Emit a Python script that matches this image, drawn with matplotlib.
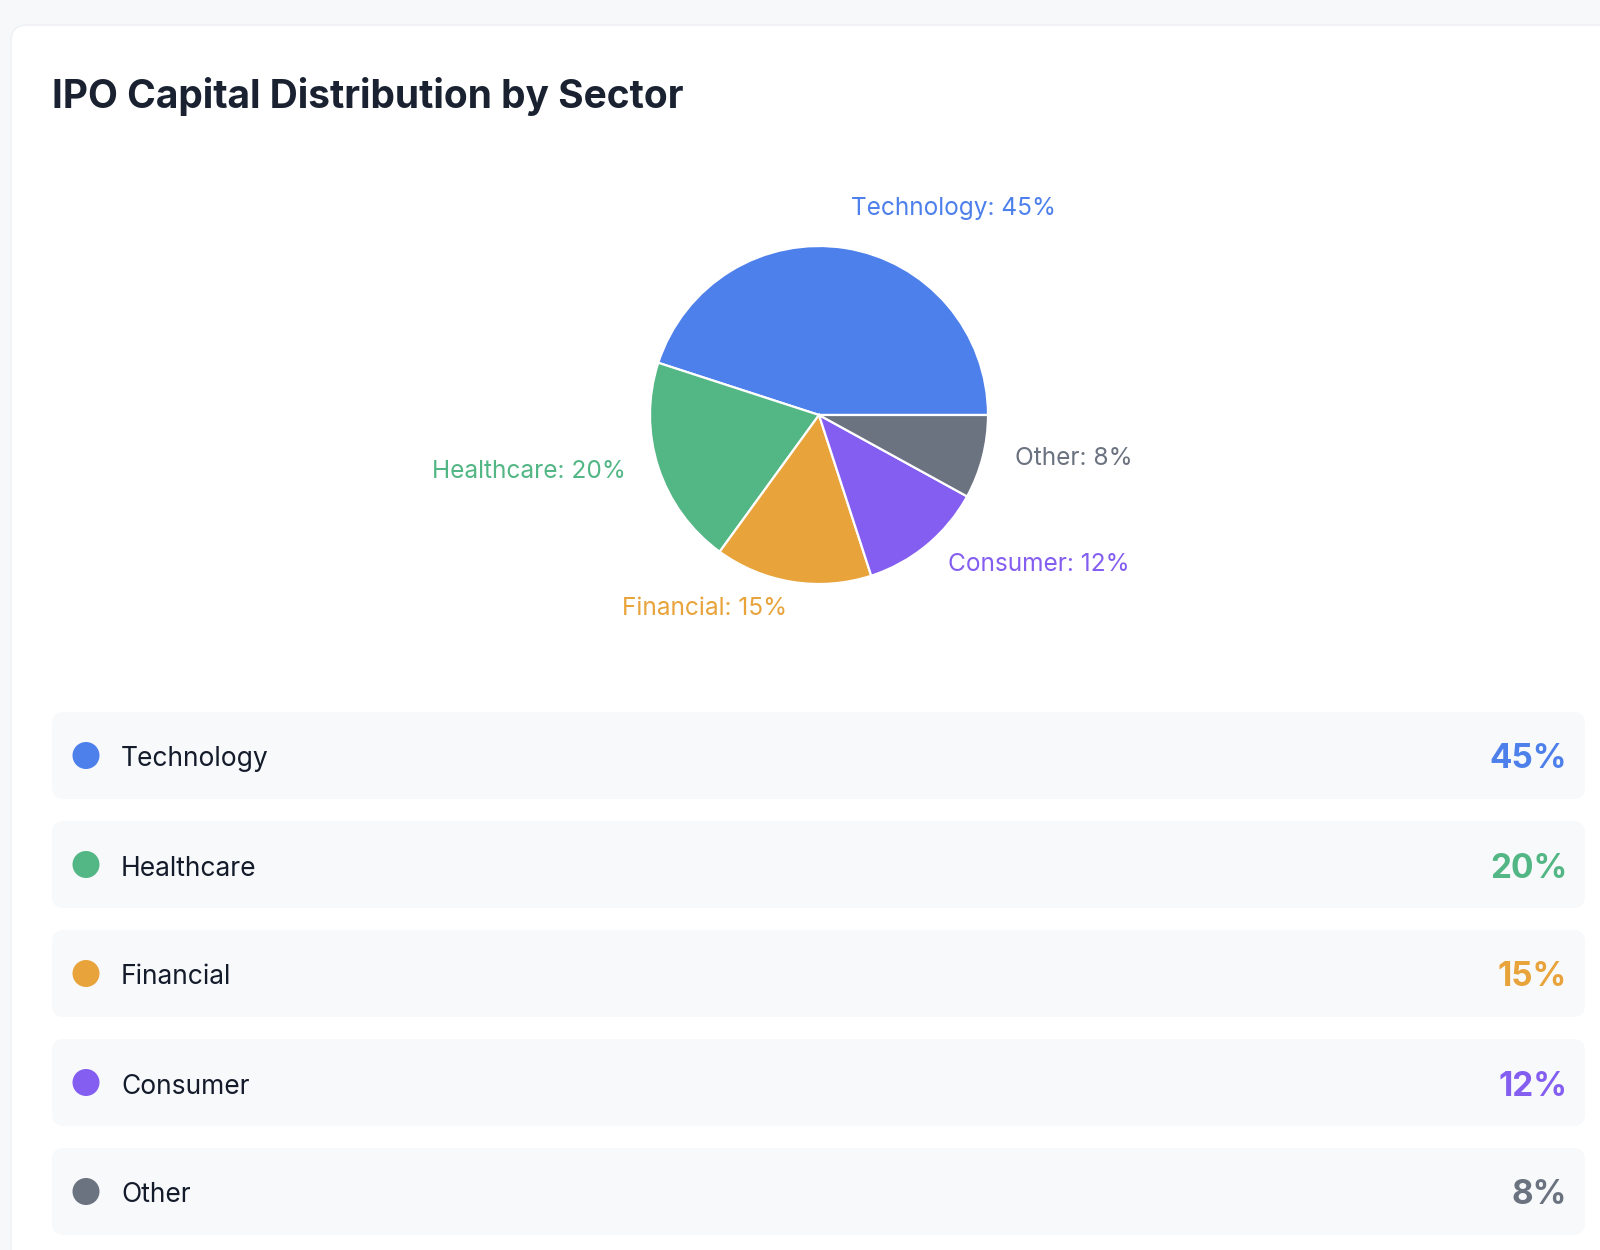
import matplotlib
matplotlib.use("Agg")
import matplotlib.pyplot as plt
import numpy as np
from matplotlib.patches import FancyBboxPatch, Circle

# data
sectors = ["Technology", "Healthcare", "Financial", "Consumer", "Other"]
shares = [45, 20, 15, 12, 8]
colors = ["#4d80eb", "#53b685", "#e8a33b", "#845ef0", "#6b7280"]

plt.rcParams["font.family"] = ["Inter", "DejaVu Sans"]

W, H = 1600, 1250
fig = plt.figure(figsize=(W / 100, H / 100), dpi=100, facecolor="#f7f8fa")

# background axes in pixel coordinates (y down)
bg = fig.add_axes([0, 0, 1, 1])
bg.set_xlim(0, W)
bg.set_ylim(H, 0)
bg.set_aspect("equal")
bg.axis("off")

card = FancyBboxPatch((11, 25), W + 40, H + 40,
                      boxstyle="round,pad=0,rounding_size=16",
                      facecolor="white", edgecolor="#eef0f3", linewidth=1)
bg.add_patch(card)

bg.text(52, 96, "IPO Capital Distribution by Sector", fontsize=28,
        fontweight="bold", color="#1a2232", va="center", ha="left")

# pie chart
cx, cy, R = 819, 415, 169
span = 1.5
pie_ax = fig.add_axes([(cx - R * span) / W, 1 - (cy + R * span) / H,
                       2 * R * span / W, 2 * R * span / H])
wedges, _ = pie_ax.pie(shares, colors=colors, startangle=0, counterclock=True,
                       wedgeprops=dict(edgecolor="white", linewidth=1.6))
pie_ax.set_xlim(-span, span)
pie_ax.set_ylim(-span, span)
pie_ax.set_aspect("equal")
pie_ax.axis("off")

for w, name, val, col in zip(wedges, sectors, shares, colors):
    mid = np.deg2rad((w.theta1 + w.theta2) / 2)
    x, y = 1.2 * np.cos(mid), 1.2 * np.sin(mid)
    ha = "left" if np.cos(mid) >= 0 else "right"
    pie_ax.text(x, y, f"{name}: {val}%", color=col, fontsize=17.6,
                ha=ha, va="baseline")

# legend rows
row_top, row_h, row_step = 712, 87, 109
for i, (name, val, col) in enumerate(zip(sectors, shares, colors)):
    top = row_top + i * row_step
    mid_y = top + row_h / 2
    bg.add_patch(FancyBboxPatch((52, top), 1533, row_h,
                                boxstyle="round,pad=0,rounding_size=12",
                                facecolor="#f8f9fb", edgecolor="none"))
    bg.add_patch(Circle((86, mid_y), 13.5, facecolor=col, edgecolor="none"))
    bg.text(121, mid_y + 4, name, fontsize=19, color="#141b2b",
            va="center", ha="left")
    bg.text(1567, mid_y + 4, f"{val}%", fontsize=24, fontweight="bold",
            color=col, va="center", ha="right")

fig.savefig("out.png", dpi=100, facecolor=fig.get_facecolor())
